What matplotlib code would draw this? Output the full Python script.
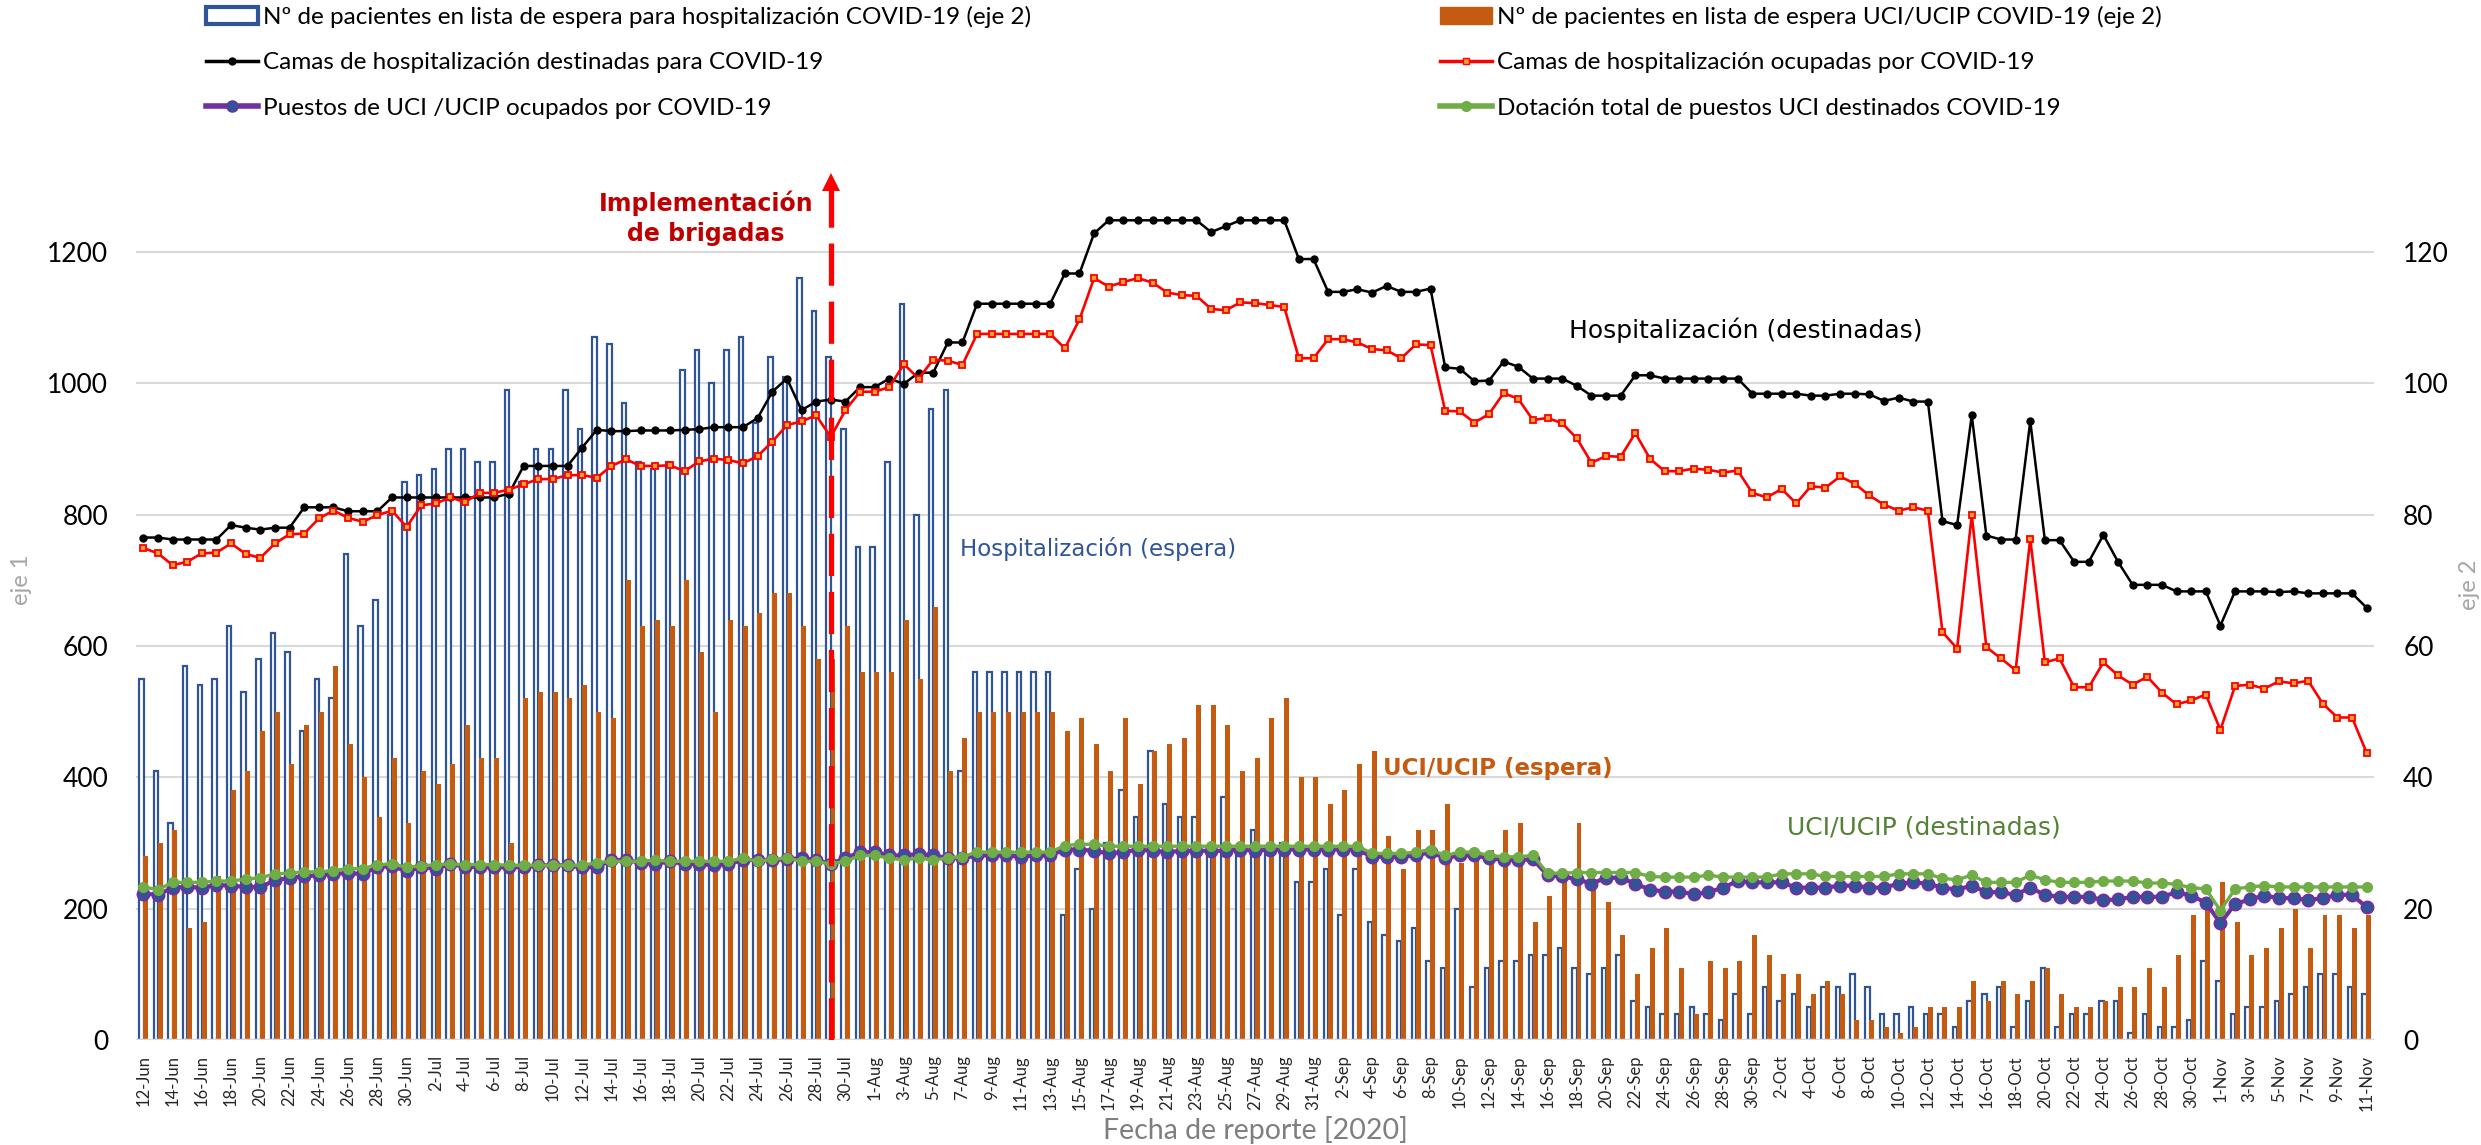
import matplotlib
matplotlib.use("Agg")
import matplotlib.pyplot as plt
import numpy as np
import pandas as pd
from matplotlib.patches import Patch
from matplotlib.lines import Line2D

plt.rcParams['font.family'] = ['Lato', 'DejaVu Sans']

# ---------------- data ----------------
dates = pd.date_range('2020-06-12', '2020-11-11', freq='D')
date_labels = [f"{d.day}-{d.strftime('%b')}" for d in dates]

camas_destinadas = [
    765, 765, 762, 762, 762, 762, 784, 780, 777, 780,
    780, 811, 811, 811, 805, 805, 805, 826, 826, 826,
    826, 826, 826, 826, 826, 832, 874, 874, 874, 874,
    902, 929, 927, 927, 928, 928, 928, 929, 930, 933,
    933, 933, 947, 987, 1007, 959, 972, 975, 972, 994,
    994, 1007, 999, 1016, 1016, 1062, 1062, 1121, 1121, 1121,
    1121, 1121, 1121, 1167, 1167, 1228, 1248, 1248, 1248, 1248,
    1248, 1248, 1248, 1230, 1239, 1248, 1248, 1248, 1248, 1189,
    1189, 1139, 1139, 1143, 1138, 1148, 1139, 1139, 1144, 1024,
    1022, 1003, 1004, 1033, 1025, 1007, 1007, 1007, 996, 981,
    981, 981, 1012, 1012, 1007, 1007, 1007, 1007, 1007, 1007,
    984, 984, 984, 984, 981, 981, 984, 984, 983, 973,
    978, 972, 972, 790, 784, 951, 768, 762, 762, 942,
    761, 761, 728, 728, 769, 728, 693, 693, 693, 683,
    683, 683, 631, 683, 683, 683, 682, 683, 680, 680,
    680, 680, 658]

camas_ocupadas = [
    749, 741, 723, 728, 741, 742, 756, 740, 734, 756,
    770, 771, 794, 806, 795, 789, 799, 806, 781, 814,
    817, 826, 819, 833, 833, 838, 846, 854, 854, 860,
    860, 856, 874, 884, 874, 874, 875, 866, 881, 885,
    883, 878, 889, 911, 936, 942, 951, 918, 959, 987,
    987, 994, 1029, 1007, 1036, 1034, 1028, 1075, 1075, 1075,
    1075, 1075, 1075, 1053, 1097, 1160, 1147, 1154, 1160, 1153,
    1138, 1134, 1133, 1113, 1111, 1123, 1122, 1119, 1116, 1038,
    1038, 1067, 1067, 1062, 1052, 1050, 1038, 1059, 1058, 958,
    957, 940, 953, 985, 976, 944, 947, 939, 916, 879,
    889, 888, 924, 885, 866, 866, 870, 868, 864, 867,
    833, 826, 839, 817, 843, 841, 858, 847, 829, 815,
    806, 811, 806, 621, 596, 799, 598, 581, 563, 763,
    575, 581, 537, 537, 575, 555, 541, 553, 529, 511,
    517, 526, 472, 539, 541, 535, 546, 543, 547, 512,
    491, 491, 437]

espera_hosp = [
    55, 41, 33, 57, 54, 55, 63, 53, 58, 62,
    59, 47, 55, 52, 74, 63, 67, 80, 85, 86,
    87, 90, 90, 88, 88, 99, 85, 90, 90, 99,
    93, 107, 106, 97, 88, 87, 88, 102, 105, 100,
    105, 107, 94, 104, 101, 116, 111, 104, 93, 75,
    75, 88, 112, 80, 96, 99, 41, 56, 56, 56,
    56, 56, 56, 19, 26, 20, 30, 38, 34, 44,
    36, 34, 34, 29, 37, 28, 32, 29, 30, 24,
    24, 26, 19, 26, 18, 16, 15, 17, 12, 11,
    20, 8, 11, 12, 12, 13, 13, 14, 11, 10,
    11, 13, 6, 5, 4, 4, 5, 4, 3, 7,
    4, 8, 6, 7, 5, 8, 8, 10, 8, 4,
    4, 5, 4, 4, 2, 6, 7, 8, 2, 6,
    11, 2, 4, 4, 6, 6, 1, 4, 2, 2,
    3, 12, 9, 4, 5, 5, 6, 7, 8, 10,
    10, 8, 7]

espera_uci = [
    28, 30, 32, 17, 18, 25, 38, 41, 47, 50,
    42, 48, 50, 57, 45, 40, 34, 43, 33, 41,
    39, 42, 48, 43, 43, 30, 52, 53, 53, 52,
    54, 50, 49, 70, 63, 64, 63, 70, 59, 50,
    64, 63, 65, 68, 68, 63, 58, 58, 63, 56,
    56, 56, 64, 55, 66, 41, 46, 50, 50, 50,
    50, 50, 50, 47, 49, 45, 41, 49, 39, 44,
    45, 46, 51, 51, 48, 41, 43, 49, 52, 40,
    40, 36, 38, 42, 44, 31, 26, 32, 32, 36,
    27, 28, 29, 32, 33, 18, 22, 25, 33, 23,
    21, 16, 10, 14, 17, 11, 4, 12, 11, 12,
    16, 13, 10, 10, 7, 9, 7, 3, 3, 2,
    1, 2, 5, 5, 5, 9, 6, 9, 7, 9,
    11, 7, 5, 5, 6, 8, 8, 11, 8, 13,
    19, 21, 24, 18, 13, 14, 17, 20, 14, 19,
    19, 17, 19]

uci_dotacion = [
    233, 229, 240, 240, 240, 242, 242, 245, 247, 253,
    254, 256, 256, 258, 261, 261, 267, 268, 263, 265,
    267, 268, 267, 267, 267, 266, 266, 266, 266, 266,
    266, 270, 272, 272, 272, 274, 272, 272, 272, 272,
    272, 277, 272, 275, 277, 272, 272, 268, 272, 281,
    281, 277, 274, 277, 274, 277, 279, 286, 286, 286,
    286, 286, 286, 296, 298, 298, 295, 295, 295, 295,
    295, 295, 295, 295, 295, 295, 295, 295, 295, 295,
    295, 295, 295, 295, 284, 284, 284, 286, 290, 281,
    286, 286, 281, 279, 279, 281, 254, 254, 255, 255,
    255, 255, 255, 249, 248, 248, 248, 251, 248, 248,
    248, 248, 253, 253, 253, 249, 249, 249, 249, 249,
    253, 253, 253, 246, 244, 251, 240, 240, 240, 251,
    244, 240, 240, 240, 242, 242, 242, 239, 239, 237,
    232, 230, 197, 230, 233, 235, 233, 233, 233, 233,
    233, 233, 233]

uci_ocupados = [
    223, 221, 232, 233, 232, 236, 235, 233, 233, 243,
    247, 249, 251, 253, 254, 253, 263, 265, 257, 263,
    261, 268, 264, 263, 263, 263, 263, 266, 266, 266,
    263, 263, 274, 274, 270, 268, 272, 268, 268, 266,
    268, 274, 274, 274, 275, 277, 274, 268, 277, 286,
    286, 281, 281, 283, 281, 277, 277, 281, 281, 281,
    279, 281, 281, 290, 290, 288, 284, 286, 290, 288,
    286, 288, 288, 288, 288, 290, 288, 290, 290, 290,
    290, 290, 290, 290, 279, 279, 279, 281, 286, 277,
    281, 281, 277, 274, 274, 275, 251, 249, 245, 238,
    247, 247, 238, 229, 226, 226, 222, 225, 232, 242,
    240, 240, 240, 232, 232, 232, 235, 235, 232, 232,
    238, 240, 238, 232, 229, 235, 225, 225, 221, 232,
    221, 218, 218, 218, 213, 214, 218, 218, 218, 225,
    220, 209, 178, 207, 214, 220, 216, 216, 213, 216,
    221, 221, 202]

brigadas_idx = 47  # 29-Jul

left_ticks = [0, 200, 400, 600, 800, 1000, 1200]
right_ticks = [0, 20, 40, 60, 80, 100, 120]

legend_labels = [
    "Nº de pacientes en lista de espera para hospitalización COVID-19 (eje 2)",
    "Nº de pacientes en lista de espera UCI/UCIP COVID-19 (eje 2)",
    "Camas de hospitalización destinadas para COVID-19",
    "Camas de hospitalización ocupadas por COVID-19",
    "Puestos de UCI /UCIP ocupados por COVID-19",
    "Dotación total de puestos UCI destinados COVID-19",
]

# ---------------- styling ----------------
C_BLUE = '#2F5597'
C_ORANGE = '#C55A11'
C_RED = '#FF0000'
C_PURPLE = '#7030A0'
C_GREEN = '#70AD47'
C_GRID = '#D9D9D9'

W, H = 2481, 1145
fig = plt.figure(figsize=(W / 100, H / 100), dpi=100, facecolor='white')
# ax2: bars on the secondary axis (eje 2, right) ; ax: lines on eje 1 (left), drawn on top
ax2 = fig.add_axes([136 / W, 1 - 1040 / H, (2374 - 136) / W, (1040 - 173) / H])
ax = ax2.twinx()
ax2.yaxis.tick_right()
ax.yaxis.tick_left()
ax.set_zorder(ax2.get_zorder() + 1)
ax.patch.set_visible(False)
ax2.patch.set_facecolor('white')

x = np.arange(len(dates))

ax2.set_axisbelow(True)
ax2.yaxis.grid(True, color=C_GRID, lw=1.5)
ax2.set_ylim(0, 132)
ax2.set_yticks(right_ticks)
ax2.bar(x - 0.14, espera_hosp, width=0.31, facecolor='white', edgecolor=C_BLUE, lw=1.6, zorder=2)
ax2.bar(x + 0.15, espera_uci, width=0.34, color=C_ORANGE, lw=0, zorder=3)
ax2.axhline(0, color=C_GRID, lw=2.5, zorder=4)

ax.set_ylim(0, 1320)
ax2.set_xlim(-0.5, len(dates) - 0.5)
ax.set_yticks(left_ticks)

ax.plot(x, uci_ocupados, color=C_PURPLE, lw=3.0, marker='o', ms=8.5, mfc=C_BLUE, mec=C_PURPLE, mew=1.5, zorder=3)
ax.plot(x, uci_dotacion, color=C_GREEN, lw=2.4, marker='o', ms=7, mfc=C_GREEN, mec=C_GREEN, zorder=4)
ax.plot(x, camas_destinadas, color='black', lw=1.8, marker='o', ms=5, mfc='black', mec='black', zorder=5)
ax.plot(x, camas_ocupadas, color=C_RED, lw=1.9, marker='s', ms=5, mfc='#F5A030', mec=C_RED, mew=1.3, zorder=6)

# brigadas dashed arrow
ax.plot([brigadas_idx, brigadas_idx], [0, 1297], color=C_RED, lw=3.8, dashes=(8, 3), zorder=8, solid_capstyle='butt')
ax.plot([brigadas_idx], [1306], marker='^', color=C_RED, ms=13, mew=0, zorder=8, clip_on=False)
ax.set_xlim(-0.5, len(dates) - 0.5)

for a in (ax, ax2):
    for s in a.spines.values():
        s.set_visible(False)

ax.tick_params(axis='y', length=0, pad=20, labelsize=19, labelcolor='black')
ax2.tick_params(axis='y', length=0, pad=21, labelsize=19, labelcolor='black')
ax2.set_xticks(x[::2])
ax2.set_xticklabels(date_labels[::2], rotation=90, fontsize=12, color='#262626')
ax2.tick_params(axis='x', length=0, pad=11)

# annotations
ax.text(38.45, 1251, "Implementación\nde brigadas", ha='center', va='center', color='#C00000',
        fontsize=17, fontweight='bold', family='DejaVu Sans', linespacing=1.3)
ax.text(55.83, 748, "Hospitalización (espera)", ha='left', va='center', color=C_BLUE,
        fontsize=16.5, family='DejaVu Sans')
ax.text(97.5, 1080, "Hospitalización (destinadas)", ha='left', va='center', color='black',
        fontsize=18, family='DejaVu Sans')
ax.text(84.74, 413, "UCI/UCIP (espera)", ha='left', va='center', color=C_ORANGE,
        fontsize=16.5, fontweight='bold', family='DejaVu Sans')
ax.text(112.4, 323, "UCI/UCIP (destinadas)", ha='left', va='center', color='#548235',
        fontsize=18, family='DejaVu Sans')

# axis titles
fig.text(22 / W, 1 - 580 / H, "eje 1", rotation=90, ha='center', va='center', color='#A6A6A6', fontsize=17)
fig.text(2470 / W, 1 - 585 / H, "eje 2", rotation=90, ha='center', va='center', color='#A6A6A6', fontsize=17)
fig.text(1255 / W, 1 - 1130 / H, "Fecha de reporte [2020]", ha='center', va='center', color='#7F7F7F', fontsize=20.5)

# legends
h_blue = Patch(facecolor='white', edgecolor=C_BLUE, lw=3)
h_orange = Patch(facecolor=C_ORANGE, edgecolor=C_ORANGE)
h_black = Line2D([], [], color='black', lw=2.5, marker='o', ms=5)
h_red = Line2D([], [], color=C_RED, lw=2.5, marker='s', ms=5, mfc='#F5A030', mec=C_RED)
h_purple = Line2D([], [], color=C_PURPLE, lw=4, marker='o', ms=8, mfc=C_BLUE, mec=C_PURPLE)
h_green = Line2D([], [], color=C_GREEN, lw=4, marker='o', ms=7, mfc=C_GREEN, mec=C_GREEN)

common = dict(loc='upper left', frameon=False, fontsize=17.5, handlelength=2.15, handletextpad=0.2,
              labelspacing=1.0, borderpad=0, borderaxespad=0)
fig.legend([h_blue, h_black, h_purple], [legend_labels[0], legend_labels[2], legend_labels[4]],
           bbox_to_anchor=(206 / W, 1 - 6 / H), **common)
fig.legend([h_orange, h_red, h_green], [legend_labels[1], legend_labels[3], legend_labels[5]],
           bbox_to_anchor=(1440 / W, 1 - 6 / H), **common)

fig.savefig('out.png', dpi=100, facecolor='white')
